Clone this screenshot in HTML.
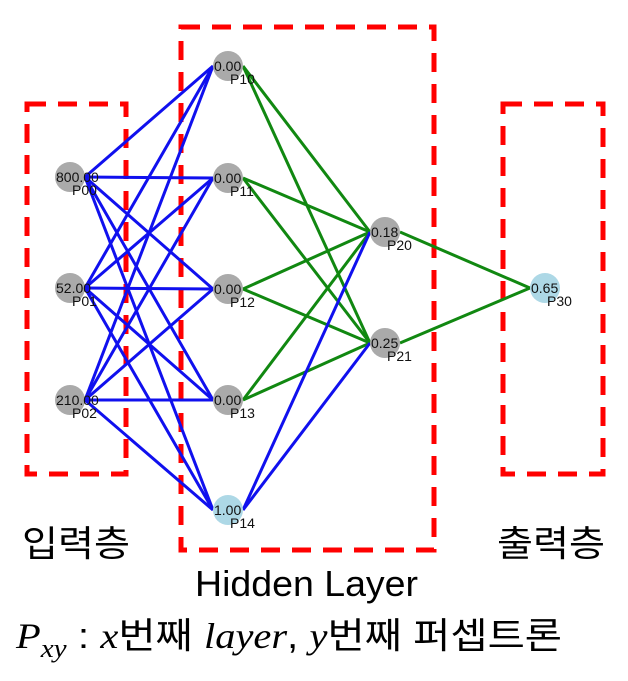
<!DOCTYPE html>
<html><head><meta charset="utf-8"><style>
body{margin:0;background:#fff;width:628px;height:681px;overflow:hidden}
svg{display:block}
.big{font-family:"Liberation Sans","Noto Sans CJK KR",sans-serif;font-size:36px;fill:#000}
.nv{font-family:"Liberation Sans",sans-serif;font-size:14px;fill:#111}
</style></head><body>
<svg id="c" width="628" height="681">
<g id="boxes"></g><g id="edges"></g><g id="nodes"></g>
<text class="big" x="22" y="556" textLength="108" lengthAdjust="spacingAndGlyphs">입력층</text>
<text class="big" x="497" y="556" textLength="108" lengthAdjust="spacingAndGlyphs">출력층</text>
<text class="big" x="195" y="596" textLength="223" lengthAdjust="spacingAndGlyphs">Hidden Layer</text>
<text class="big" x="16" y="648" textLength="546" lengthAdjust="spacingAndGlyphs"><tspan font-family="Liberation Serif,serif" font-style="italic">P</tspan><tspan font-family="Liberation Serif,serif" font-style="italic" font-size="26" dy="9">xy</tspan><tspan dy="-9"> : </tspan><tspan font-family="Liberation Serif,serif" font-style="italic">x</tspan>번째 <tspan font-family="Liberation Serif,serif" font-style="italic">layer</tspan>, <tspan font-family="Liberation Serif,serif" font-style="italic">y</tspan>번째 퍼셉트론</text>
</svg>
<script>
const layerX=[70,228,385,545];
const layer0Vals=["800.00","52.00","210.00"];
const layer0Ids=["P00","P01","P02"];
const layer0Y=[177,288,400];
const layer1Vals=["0.00","0.00","0.00","0.00","1.00"];
const layer1Ids=["P10","P11","P12","P13","P14"];
const layer1Y=[66,178,289,400,510];
const layer2Vals=["0.18","0.25"];
const layer2Ids=["P20","P21"];
const layer2Y=[232,343];
const layer3Vals=["0.65"];
const layer3Ids=["P30"];
const layer3Y=[288];
const NS="http://www.w3.org/2000/svg";
const R=15;
function mk(tag,attrs,parent){const e=document.createElementNS(NS,tag);for(const k in attrs)e.setAttribute(k,attrs[k]);parent.appendChild(e);return e;}
const boxes=document.getElementById('boxes'),edges=document.getElementById('edges'),nodes=document.getElementById('nodes');
[[27,104,126,474,'input-layer-box'],[181,27,434,550,'hidden-layer-box'],[503,104,603,474,'output-layer-box']].forEach(b=>{
 const r=mk('rect',{x:b[0],y:b[1],width:b[2]-b[0],height:b[3]-b[1],fill:'none',stroke:'#f00','stroke-width':5,'stroke-dasharray':'19 12'},boxes);
 
 
});
function line(x1,y1,x2,y2,col,name){const l=mk('line',{x1,y1,x2,y2,stroke:col,'stroke-width':3},edges);
 
 }
layer0Y.forEach((y0,i)=>layer1Y.forEach((y1,j)=>line(layerX[0]+R,y0,layerX[1]-R,y1,'#1010ee','edge-'+layer0Ids[i]+'-'+layer1Ids[j])));
layer1Y.forEach((y1,j)=>layer2Y.forEach((y2,k)=>line(layerX[1]+R,y1,layerX[2]-R,y2,j===layer1Y.length-1?'#1010ee':'#118811','edge-'+layer1Ids[j]+'-'+layer2Ids[k])));
layer2Y.forEach((y2,k)=>layer3Y.forEach((y3,m)=>line(layerX[2]+R,y2,layerX[3]-R,y3,'#118811','edge-'+layer2Ids[k]+'-'+layer3Ids[m])));
function node(x,y,val,id,fill){
 const g=mk('g',{},nodes);
 
 
 mk('circle',{cx:x,cy:y,r:R,fill},g);
 const t=mk('text',{x:x-14,y:y+5,class:'nv'},g);t.textContent=val;
 const t2=mk('text',{x:x+2,y:y+18,class:'nv'},g);t2.textContent=id;
}
layer0Y.forEach((y,i)=>node(layerX[0],y,layer0Vals[i],layer0Ids[i],'#aaaaaa'));
layer1Y.forEach((y,i)=>node(layerX[1],y,layer1Vals[i],layer1Ids[i],i===layer1Y.length-1?'#add8e6':'#aaaaaa'));
layer2Y.forEach((y,i)=>node(layerX[2],y,layer2Vals[i],layer2Ids[i],'#aaaaaa'));
layer3Y.forEach((y,i)=>node(layerX[3],y,layer3Vals[i],layer3Ids[i],'#add8e6'));
</script>
</body></html>
